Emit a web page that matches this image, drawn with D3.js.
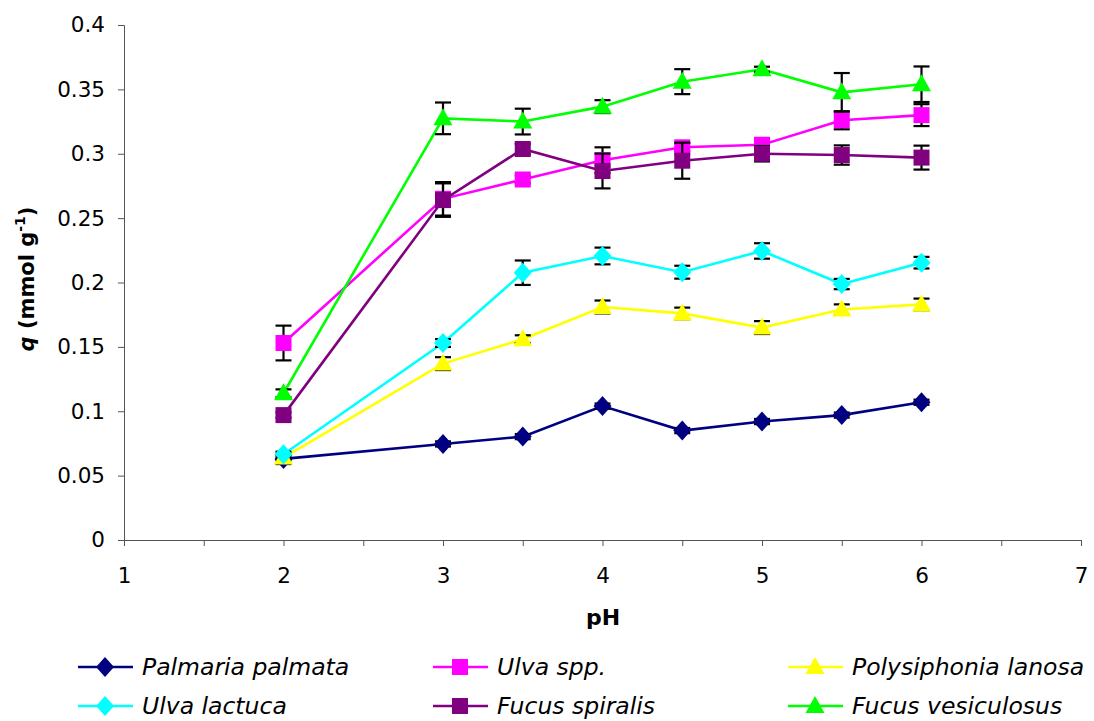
<!DOCTYPE html>
<html><head><meta charset="utf-8">
<script src="https://cdn.jsdelivr.net/npm/d3@7"></script>
<style>body{margin:0;background:#fff;} text{font-family:"DejaVu Sans",sans-serif;}</style>
</head><body><svg id="c" width="1094" height="721"></svg>
<script>
const pH = [2, 3, 3.5, 4, 4.5, 5, 5.5, 6];
const seriesNames = ["Palmaria palmata","Ulva spp.","Polysiphonia lanosa","Ulva lactuca","Fucus spiralis","Fucus vesiculosus"];
const palmaria = [0.063, 0.0746, 0.0803, 0.104, 0.085, 0.092, 0.097, 0.107];
const palmariaErr = [0.004, 0.002, 0.002, 0.002, 0.002, 0.002, 0.002, 0.002];
const ulvaSpp = [0.153, 0.265, 0.280, 0.295, 0.305, 0.307, 0.326, 0.330];
const ulvaSppErr = [0.0135, 0.013, 0.003, 0.010, 0.003, 0.003, 0.007, 0.0085];
const polysiphonia = [0.064, 0.137, 0.156, 0.181, 0.176, 0.165, 0.179, 0.183];
const polysiphoniaErr = [0.002, 0.005, 0.003, 0.005, 0.0045, 0.005, 0.004, 0.0045];
const ulvaLactuca = [0.0666, 0.153, 0.2076, 0.2206, 0.208, 0.2245, 0.1988, 0.2154];
const ulvaLactucaErr = [0.002, 0.003, 0.0095, 0.0065, 0.005, 0.006, 0.004, 0.0045];
const fucusSpiralis = [0.097, 0.264, 0.3037, 0.2866, 0.2946, 0.300, 0.299, 0.297];
const fucusSpiralisErr = [0.002, 0.013, 0.004, 0.0135, 0.014, 0.006, 0.0075, 0.0093];
const fucusVesiculosus = [0.114, 0.3275, 0.325, 0.3366, 0.356, 0.3656, 0.3477, 0.354];
const fucusVesiculosusErr = [0.003, 0.0123, 0.010, 0.005, 0.0097, 0.002, 0.015, 0.0138];
const colors = ["#000080","#FF00FF","#FFFF00","#00FFFF","#800080","#00FF00"];
const shapes = ["diamond","square","triangle","diamond","square","triangle"];
const yTicks = [0,0.05,0.1,0.15,0.2,0.25,0.3,0.35,0.4];
const xTicks = [1,2,3,4,5,6,7];

const values = [palmaria, ulvaSpp, polysiphonia, ulvaLactuca, fucusSpiralis, fucusVesiculosus];
const errs = [palmariaErr, ulvaSppErr, polysiphoniaErr, ulvaLactucaErr, fucusSpiralisErr, fucusVesiculosusErr];
const series = seriesNames.map((n,i)=>({name:n, color:colors[i], shape:shapes[i],
  pts: pH.map((x,j)=>({x, y: values[i][j], e: errs[i][j]}))}));

const svg = d3.select("#c");
const x = d3.scaleLinear().domain([1,7]).range([124,1081]);
const y = d3.scaleLinear().domain([0,0.4]).range([540,25]);
const axisColor = "#555";
const FONT = "DejaVu Sans, sans-serif";

// y axis
const ya = svg.append("g").attr("transform","translate(124,0)")
  .call(d3.axisLeft(y).tickValues(yTicks).tickSize(6).tickPadding(13).tickFormat(d=>String(+d.toFixed(2))));
ya.select(".domain").attr("stroke",axisColor);
ya.selectAll(".tick line").attr("stroke",axisColor);
ya.selectAll("text").attr("font-size",21.5).attr("fill","#000").attr("font-family",FONT);

// x axis
const xa = svg.append("g").attr("transform","translate(0,540)")
  .call(d3.axisBottom(x).tickValues(d3.range(1,7.01,0.5)).tickSize(6).tickPadding(22)
     .tickFormat(d=> xTicks.includes(d) ? d : ""));
xa.select(".domain").attr("stroke",axisColor);
xa.selectAll(".tick line").attr("stroke",axisColor);
xa.selectAll("text").attr("font-size",21.5).attr("fill","#000").attr("font-family",FONT);

// titles
svg.append("text").attr("x",603).attr("y",625).attr("text-anchor","middle")
  .attr("font-size",22).attr("font-weight","bold").text("pH");
const yt = svg.append("text").attr("transform","translate(34,279) rotate(-90)").attr("text-anchor","middle")
  .attr("font-size",21).attr("font-weight","bold");
yt.append("tspan").attr("font-style","italic").text("q");
yt.append("tspan").text(" (mmol g");
yt.append("tspan").attr("font-size",14).attr("dy",-9).text("-1");
yt.append("tspan").attr("dy",9).text(")");

function markerPath(shape){
  if(shape==="diamond") return "M0,-10L9,0L0,10L-9,0Z";
  if(shape==="square") return "M-8,-8H8V8H-8Z";
  return "M0,-10L9.5,7L-9.5,7Z";
}

const line = d3.line().x(d=>x(d.x)).y(d=>y(d.y));
series.forEach(s=>{
  const g = svg.append("g");
  g.append("path").attr("d",line(s.pts)).attr("fill","none").attr("stroke",s.color).attr("stroke-width",2.6);
  const eb = g.append("g").attr("stroke","#000").attr("stroke-width",2.2);
  s.pts.forEach(p=>{
    const x0=x(p.x), y1=y(p.y+p.e), y2=y(p.y-p.e);
    eb.append("line").attr("x1",x0).attr("x2",x0).attr("y1",y1).attr("y2",y2);
    eb.append("line").attr("x1",x0-8).attr("x2",x0+8).attr("y1",y1).attr("y2",y1);
    eb.append("line").attr("x1",x0-8).attr("x2",x0+8).attr("y1",y2).attr("y2",y2);
  });
  g.selectAll(".m").data(s.pts).enter().append("path")
    .attr("d",markerPath(s.shape)).attr("transform",d=>`translate(${x(d.x)},${y(d.y)})`)
    .attr("fill",s.color);
});

// legend
const legCols=[78,433,788], legRows=[667,706];
series.forEach((s,i)=>{
  const cx=legCols[i%3], cy=legRows[Math.floor(i/3)];
  const g=svg.append("g");
  g.append("line").attr("x1",cx).attr("x2",cx+55).attr("y1",cy).attr("y2",cy).attr("stroke",s.color).attr("stroke-width",2.6);
  g.append("path").attr("d",markerPath(s.shape)).attr("transform",`translate(${cx+27},${cy})`).attr("fill",s.color);
  g.append("text").attr("x",cx+64).attr("y",cy+8).attr("font-size",23.5).attr("font-style","italic").text(s.name);
});
</script></body></html>
